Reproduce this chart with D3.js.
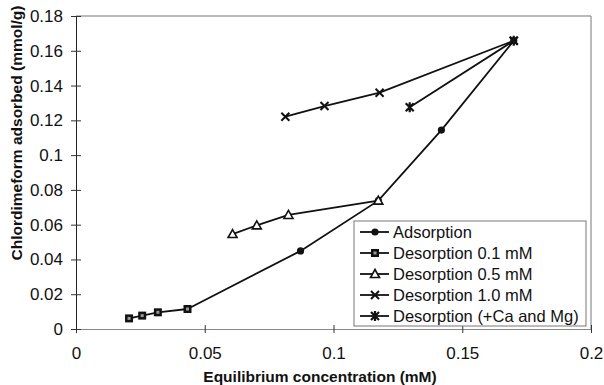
<!DOCTYPE html>
<html>
<head>
<meta charset="utf-8">
<script src="https://cdn.jsdelivr.net/npm/d3@7"></script>
<style>
  body { margin: 0; background: #fff; }
  svg { font-family: "Liberation Sans", Arial, sans-serif; }
</style>
</head>
<body>
<svg id="chart" width="604" height="385"></svg>
<script>
// data
const seriesNames = ["Adsorption", "Desorption 0.1 mM", "Desorption 0.5 mM", "Desorption 1.0 mM", "Desorption (+Ca and Mg)"];

const adsX = [0.0433, 0.0872, 0.1174, 0.1419, 0.170];
const adsY = [0.0115, 0.0449, 0.0738, 0.1144, 0.1658];

const des01X = [0.0206, 0.0257, 0.0318, 0.0433];
const des01Y = [0.0061, 0.0077, 0.0096, 0.0115];

const des05X = [0.0608, 0.0702, 0.0825, 0.1174];
const des05Y = [0.0546, 0.0596, 0.0656, 0.0738];

const des10X = [0.0813, 0.0965, 0.1179, 0.170];
const des10Y = [0.1221, 0.1282, 0.1359, 0.1658];

const desCaX = [0.1296, 0.170];
const desCaY = [0.1275, 0.1658];

const xTicks = [0, 0.05, 0.1, 0.15, 0.2];
const yTicks = [0, 0.02, 0.04, 0.06, 0.08, 0.1, 0.12, 0.14, 0.16, 0.18];

const xTitle = "Equilibrium concentration (mM)";
const yTitle = "Chlordimeform adsorbed (mmol/g)";

// layout
const plot = { left: 76, top: 16, right: 591, bottom: 329 };
const svg = d3.select("#chart");

const x = d3.scaleLinear().domain([0, 0.2]).range([plot.left, plot.right]);
const y = d3.scaleLinear().domain([0, 0.18]).range([plot.bottom, plot.top]);

// plot frame (top and right)
svg.append("path")
  .attr("d", `M${plot.left},${plot.top}H${plot.right}V${plot.bottom}`)
  .attr("fill", "none").attr("stroke", "#777").attr("stroke-width", 1);

// axes
const xAxis = svg.append("g")
  .attr("transform", `translate(0,${plot.bottom})`)
  .call(d3.axisBottom(x).tickValues(xTicks).tickSizeInner(4).tickSizeOuter(0).tickPadding(14)
    .tickFormat(d => d3.format("")(d)));
xAxis.select(".domain").attr("stroke", "#888");
xAxis.selectAll(".tick line").attr("y1", -4).attr("stroke", "#333");
xAxis.selectAll("text").attr("font-size", 17).attr("fill", "#111")
  .attr("font-family", "Liberation Sans, Arial, sans-serif");

const yAxis = svg.append("g")
  .attr("transform", `translate(${plot.left},0)`)
  .call(d3.axisLeft(y).tickValues(yTicks).tickSizeInner(5).tickSizeOuter(0).tickPadding(8)
    .tickFormat(d => d3.format("")(+d.toFixed(2))));
yAxis.select(".domain").attr("stroke", "#222");
yAxis.selectAll(".tick line").attr("x1", -5).attr("x2", 5).attr("stroke", "#333");
yAxis.selectAll("text").attr("font-size", 17).attr("fill", "#111")
  .attr("font-family", "Liberation Sans, Arial, sans-serif");

// titles
svg.append("text")
  .attr("x", 320).attr("y", 382)
  .attr("text-anchor", "middle")
  .attr("font-size", 15.5).attr("font-weight", "bold").attr("fill", "#111")
  .text(xTitle);

svg.append("text")
  .attr("transform", "translate(22,133) rotate(-90)")
  .attr("text-anchor", "middle")
  .attr("font-size", 15.5).attr("font-weight", "bold").attr("fill", "#111")
  .text(yTitle);

// series
const series = [
  { name: seriesNames[0], xs: adsX, ys: adsY, marker: "circle" },
  { name: seriesNames[1], xs: des01X, ys: des01Y, marker: "square" },
  { name: seriesNames[2], xs: des05X, ys: des05Y, marker: "triangle" },
  { name: seriesNames[3], xs: des10X, ys: des10Y, marker: "cross" },
  { name: seriesNames[4], xs: desCaX, ys: desCaY, marker: "star" }
];

const line = d3.line().x(d => x(d[0])).y(d => y(d[1]));

series.forEach(s => {
  const pts = s.xs.map((v, i) => [v, s.ys[i]]);
  svg.append("path")
    .datum(pts)
    .attr("d", line)
    .attr("fill", "none")
    .attr("stroke", "#111")
    .attr("stroke-width", 1.8);
});

function drawMarker(g, type, cx, cy) {
  if (type === "circle") {
    g.append("circle").attr("cx", cx).attr("cy", cy).attr("r", 3.6).attr("fill", "#111");
  } else if (type === "square") {
    g.append("rect").attr("x", cx - 4).attr("y", cy - 4).attr("width", 8).attr("height", 8)
      .attr("fill", "#111");
    g.append("rect").attr("x", cx - 1.5).attr("y", cy - 1.5).attr("width", 3).attr("height", 3)
      .attr("fill", "#999");
  } else if (type === "triangle") {
    g.append("path")
      .attr("d", `M${cx},${cy - 4.5}L${cx + 4.5},${cy + 3.5}L${cx - 4.5},${cy + 3.5}Z`)
      .attr("fill", "#fff").attr("stroke", "#111").attr("stroke-width", 1.6);
  } else if (type === "cross") {
    g.append("path")
      .attr("d", `M${cx - 4},${cy - 4}L${cx + 4},${cy + 4}M${cx + 4},${cy - 4}L${cx - 4},${cy + 4}`)
      .attr("stroke", "#111").attr("stroke-width", 2);
  } else if (type === "star") {
    g.append("path")
      .attr("d", `M${cx - 4},${cy - 4}L${cx + 4},${cy + 4}M${cx + 4},${cy - 4}L${cx - 4},${cy + 4}M${cx},${cy - 5}L${cx},${cy + 5}`)
      .attr("stroke", "#111").attr("stroke-width", 2.2);
  }
}

const markers = svg.append("g");
series.forEach(s => {
  s.xs.forEach((v, i) => drawMarker(markers, s.marker, x(v), y(s.ys[i])));
});

// legend
const legend = svg.append("g");
legend.append("rect")
  .attr("x", 354).attr("y", 221).attr("width", 232).attr("height", 105)
  .attr("fill", "#fff").attr("stroke", "#777").attr("stroke-width", 1);

series.forEach((s, i) => {
  const ly = 232 + i * 21;
  legend.append("line")
    .attr("x1", 360).attr("x2", 389).attr("y1", ly).attr("y2", ly)
    .attr("stroke", "#111").attr("stroke-width", 1.8);
  drawMarker(legend, s.marker, 375, ly);
  legend.append("text")
    .attr("x", 393).attr("y", ly + 6)
    .attr("font-size", 16.5).attr("fill", "#111")
    .text(s.name);
});
</script>
</body>
</html>
